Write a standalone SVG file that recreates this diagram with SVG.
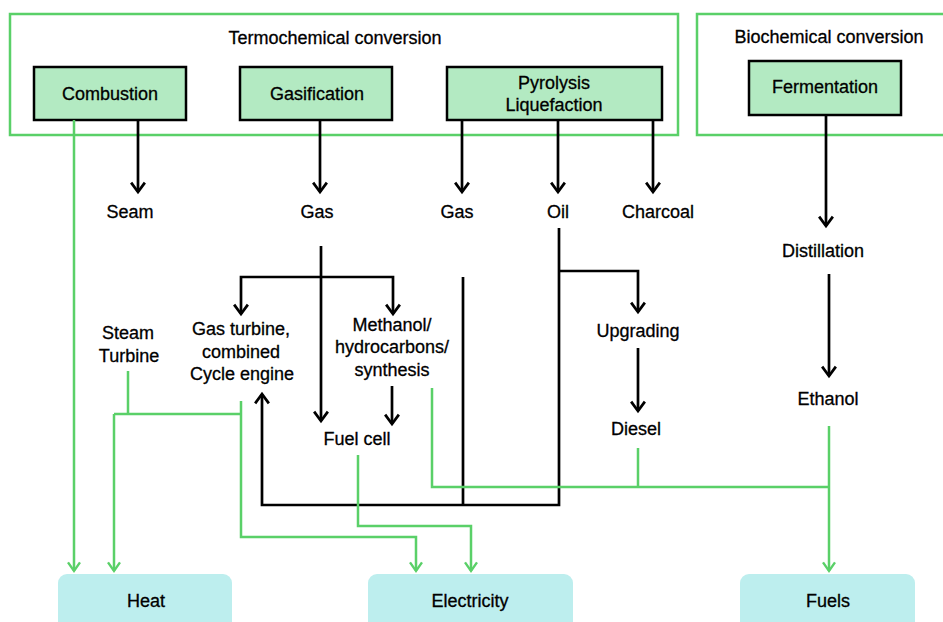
<svg xmlns="http://www.w3.org/2000/svg" width="943" height="622" viewBox="0 0 943 622">
<style>
text{font-family:"Liberation Sans",Arial,sans-serif;font-size:18px;fill:#000;stroke:#000;stroke-width:0.3;text-anchor:middle}
.grp{fill:none;stroke:#5ad068;stroke-width:2.5}
.node{fill:#b3eac2;stroke:#000;stroke-width:2.5}
.out{fill:#bdeeee;stroke:none}
.bk{fill:none;stroke:#000;stroke-width:2.7}
.gr{fill:none;stroke:#5ad068;stroke-width:2.5}
.ba{marker-end:url(#ab)}
.ga{marker-end:url(#ag)}
</style>
<defs>
<marker id="ab" markerUnits="userSpaceOnUse" markerWidth="24" markerHeight="24" viewBox="-14 -12 28 24" refX="0" refY="0" orient="auto" overflow="visible">
<path d="M-11,-8 L0,0 L-11,8" fill="none" stroke="#000" stroke-width="3.2"/>
</marker>
<marker id="ag" markerUnits="userSpaceOnUse" markerWidth="24" markerHeight="24" viewBox="-14 -12 28 24" refX="0" refY="0" orient="auto" overflow="visible">
<path d="M-10,-7 L0,0 L-10,7" fill="none" stroke="#5ad068" stroke-width="2.8"/>
</marker>
</defs>
<rect width="943" height="622" fill="#fff"/>
<g id="termochemical">
<rect class="grp" x="10" y="14" width="668" height="121"/>
<text x="335" y="44">Termochemical conversion</text>
</g>
<g id="biochemical">
<rect class="grp" x="697" y="14" width="250" height="121"/>
<text x="829" y="43">Biochemical conversion</text>
</g>
<g id="combustion"><rect class="node" x="34" y="67" width="152" height="53"/><text x="110" y="100">Combustion</text></g>
<g id="gasification"><rect class="node" x="240" y="67" width="152" height="53"/><text x="317" y="100">Gasification</text></g>
<g id="pyrolysis"><rect class="node" x="447" y="67" width="215" height="53"/><text x="554" y="89">Pyrolysis</text><text x="554" y="111">Liquefaction</text></g>
<g id="fermentation"><rect class="node" x="749" y="61" width="152" height="54"/><text x="825" y="93">Fermentation</text></g>
<g id="seam"><text x="130" y="218">Seam</text></g>
<g id="gas1"><text x="317" y="218">Gas</text></g>
<g id="gas2"><text x="457" y="218">Gas</text></g>
<g id="oil"><text x="558" y="218">Oil</text></g>
<g id="charcoal"><text x="658" y="218">Charcoal</text></g>
<g id="distillation"><text x="823" y="257">Distillation</text></g>
<g id="steam-turbine"><text x="128" y="339">Steam</text><text x="129" y="362">Turbine</text></g>
<g id="gas-turbine"><text x="241" y="335">Gas turbine,</text><text x="241" y="358">combined</text><text x="242" y="380">Cycle engine</text></g>
<g id="methanol"><text x="392" y="331">Methanol/</text><text x="392" y="353">hydrocarbons/</text><text x="392" y="376">synthesis</text></g>
<g id="fuel-cell"><text x="357" y="445">Fuel cell</text></g>
<g id="upgrading"><text x="638" y="337">Upgrading</text></g>
<g id="diesel"><text x="636" y="435">Diesel</text></g>
<g id="ethanol"><text x="828" y="405">Ethanol</text></g>
<g id="heat"><rect class="out" x="58" y="574" width="174" height="60" rx="9"/><text x="146" y="607">Heat</text></g>
<g id="electricity"><rect class="out" x="368" y="574" width="205" height="60" rx="9"/><text x="470" y="607">Electricity</text></g>
<g id="fuels"><rect class="out" x="740" y="574" width="175" height="60" rx="9"/><text x="828" y="607">Fuels</text></g>
<g id="connectors">
<path class="bk ba" d="M138,120 V192"/>
<path class="bk ba" d="M320,120 V192"/>
<path class="bk ba" d="M462,120 V192"/>
<path class="bk ba" d="M558,120 V192"/>
<path class="bk ba" d="M653,120 V192"/>
<path class="bk ba" d="M826,115 V226"/>
<path class="bk ba" d="M321,246 V421"/>
<path class="bk ba" d="M321,277 H241 V314"/>
<path class="bk ba" d="M321,277 H393 V314"/>
<path class="bk ba" d="M392,386 V424"/>
<path class="bk ba" d="M559,228 V505 H262 V394"/>
<path class="bk" d="M463,277 V505"/>
<path class="bk ba" d="M559,271 H638 V312"/>
<path class="bk ba" d="M638,348 V411"/>
<path class="bk ba" d="M829,274 V376"/>
<path class="gr ga" d="M74,120 V571"/>
<path class="gr" d="M128,371 V414 M114,414 H241"/>
<path class="gr ga" d="M114,414 V571"/>
<path class="gr ga" d="M241,401 V537 H416 V571"/>
<path class="gr ga" d="M358,455 V526 H471 V571"/>
<path class="gr" d="M432,388 V487 H829 M638,448 V487"/>
<path class="gr ga" d="M829,426 V571"/>
</g>
</svg>
